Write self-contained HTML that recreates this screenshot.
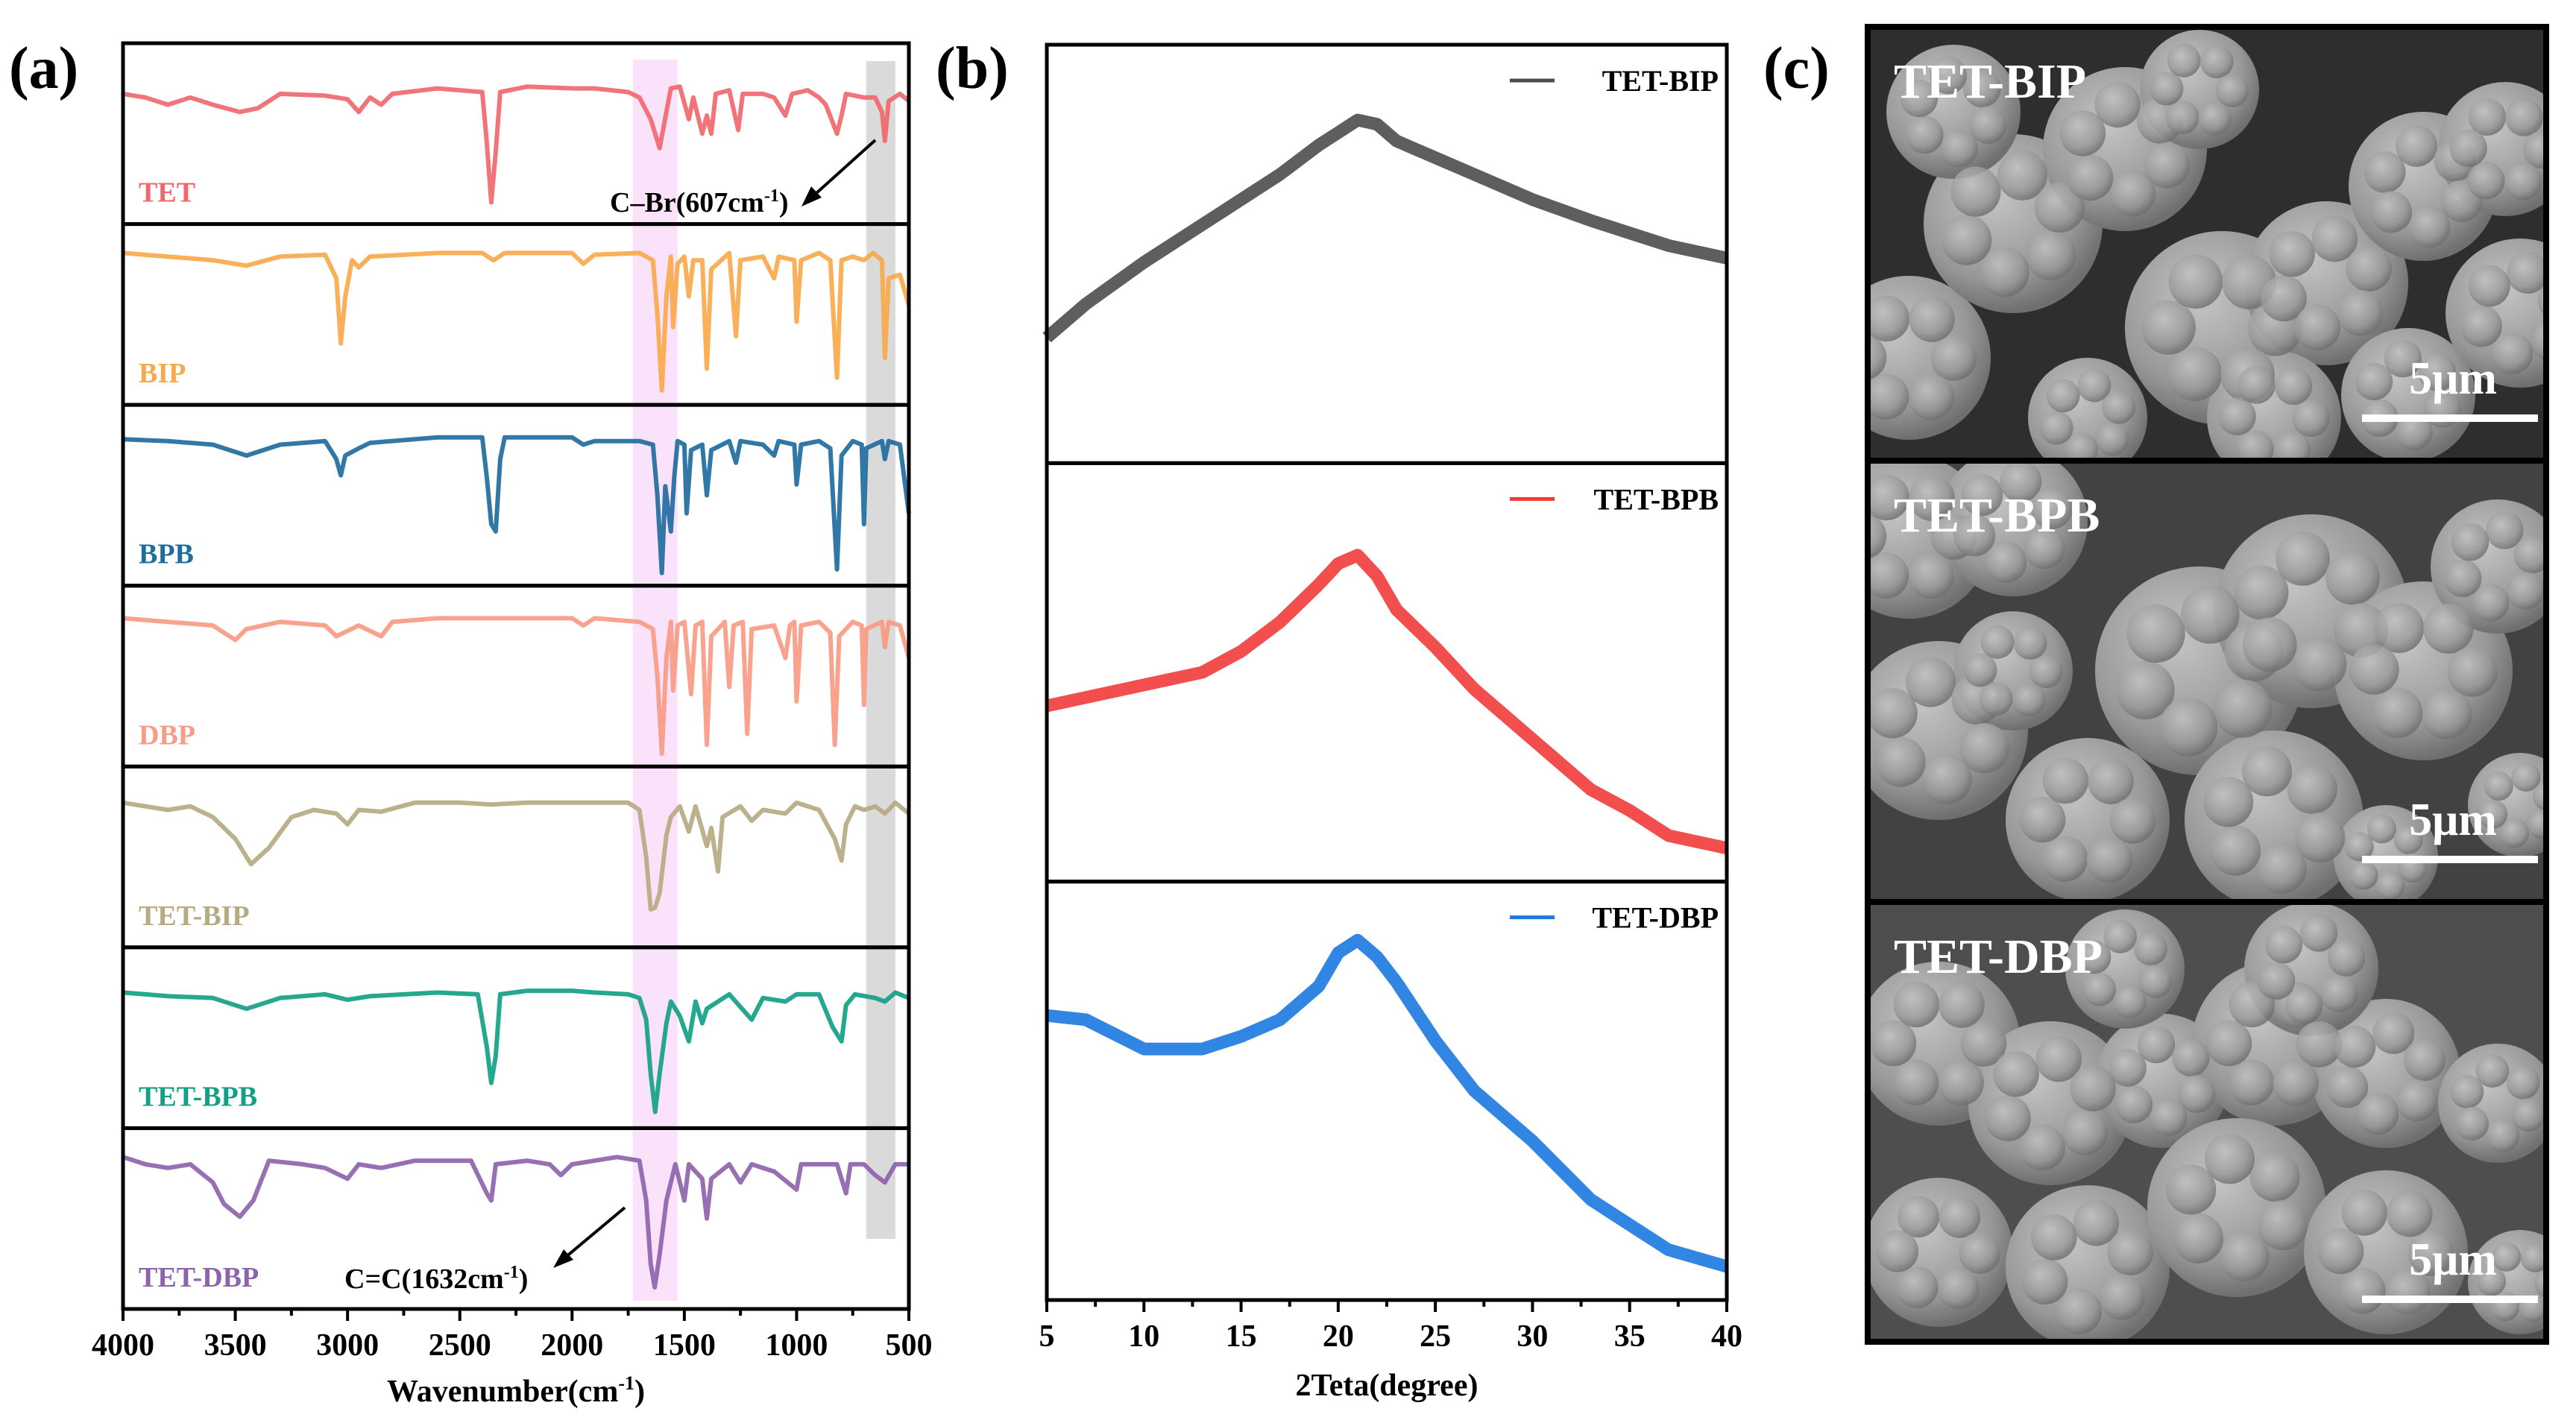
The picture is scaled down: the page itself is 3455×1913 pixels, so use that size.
<!DOCTYPE html>
<html><head><meta charset="utf-8">
<style>
html,body{margin:0;padding:0;background:#fff;}
svg{display:block;font-family:"Liberation Serif",serif;font-weight:bold;}
</style></head>
<body>
<svg id="fig" width="3455" height="1913" viewBox="0 0 3455 1913" xmlns="http://www.w3.org/2000/svg">
<defs>
<radialGradient id="blob" cx="40%" cy="35%" r="65%">
<stop offset="0" stop-color="#c4c4c4"/><stop offset="0.7" stop-color="#989898"/><stop offset="1" stop-color="#6f6f6f"/>
</radialGradient>
<clipPath id="c1"><rect x="2505" y="36" width="910" height="582"/></clipPath>
<clipPath id="c2"><rect x="2505" y="618" width="910" height="592"/></clipPath>
<clipPath id="c3"><rect x="2505" y="1210" width="910" height="590"/></clipPath>
</defs>
<g id="pa"></g>
<g id="pb"></g>
<g id="pc"></g>
</svg>
<script>
// ---------- Panel (a) FTIR data ----------
const ftirNames = ["TET","BIP","BPB","DBP","TET-BIP","TET-BPB","TET-DBP"];
const ftirColors = ["#f0686e","#f9a94b","#1f6c9e","#f99b86","#b5aa82","#14a086","#8e63ad"];
const ftirTET = [[4000,72],[3900,70],[3800,66],[3700,70],[3600,66],[3480,62],[3400,64],[3300,72],[3100,71],[3000,69],[2950,62],[2900,70],[2850,66],[2800,72],[2600,75],[2400,73],[2380,45],[2360,12],[2340,40],[2320,73],[2200,76],[2000,75],[1900,75],[1750,73],[1700,70],[1650,58],[1610,42],[1580,62],[1560,75],[1520,76],[1480,58],[1460,70],[1420,50],[1400,60],[1380,50],[1360,72],[1300,74],[1260,52],[1240,72],[1150,72],[1100,70],[1050,60],[1020,72],[950,74],[900,70],[870,66],[820,50],[800,60],[780,72],[700,70],[650,70],[620,62],[607,46],[590,68],[540,72],[500,68]];
const ftirBIP = [[4000,84],[3800,82],[3600,80],[3450,77],[3300,82],[3100,83],[3050,70],[3030,34],[3010,60],[2980,80],[2950,76],[2900,82],[2600,84],[2400,84],[2350,80],[2300,84],[2000,84],[1950,78],[1900,83],[1700,84],[1640,80],[1620,50],[1600,8],[1580,60],[1560,82],[1550,43],[1530,78],[1500,82],[1480,60],[1460,80],[1420,80],[1400,20],[1380,75],[1300,84],[1270,38],[1250,80],[1150,82],[1100,70],[1080,82],[1010,80],[1000,46],[980,80],[900,84],[850,80],[820,15],[800,80],[750,82],[700,80],[660,84],[620,80],[607,26],[590,70],[540,72],[500,55]];
const ftirBPB = [[4000,81],[3800,80],[3600,78],[3450,72],[3300,78],[3100,80],[3050,70],[3030,61],[3010,72],[2950,76],[2900,79],[2600,82],[2400,82],[2380,60],[2360,34],[2340,30],[2320,70],[2300,82],[2000,82],[1950,78],[1900,80],[1700,80],[1640,78],[1620,50],[1600,7],[1585,55],[1560,30],[1545,60],[1530,80],[1500,78],[1490,40],[1470,75],[1420,78],[1400,50],[1380,75],[1300,80],[1270,68],[1250,80],[1150,78],[1100,72],[1080,80],[1010,78],[1000,56],[980,78],[900,80],[850,76],[820,9],[800,72],[750,80],[710,78],[700,34],[690,76],[620,80],[607,70],[590,80],[540,78],[500,40]];
const ftirDBP = [[4000,82],[3800,80],[3600,78],[3500,70],[3450,76],[3300,80],[3100,78],[3050,72],[2950,78],[2850,72],[2800,80],[2600,82],[2400,82],[2000,82],[1950,78],[1900,82],[1700,80],[1640,76],[1620,50],[1600,7],[1580,60],[1560,80],[1550,42],[1530,78],[1500,80],[1470,40],[1450,78],[1420,80],[1400,12],[1380,72],[1320,80],[1300,44],[1280,78],[1240,80],[1220,18],[1200,76],[1100,78],[1050,60],[1030,78],[1010,80],[1000,36],[980,78],[900,80],[850,74],[830,12],[810,72],[750,80],[710,78],[700,34],[690,76],[620,80],[607,66],[590,80],[540,78],[500,60]];
const ftirTBIP = [[4000,80],[3900,78],[3800,76],[3700,78],[3600,72],[3500,60],[3430,46],[3350,55],[3250,72],[3150,76],[3050,74],[3000,68],[2950,76],[2850,75],[2700,80],[2500,80],[2360,79],[2200,80],[2000,80],[1900,80],[1750,80],[1700,76],[1670,50],[1650,21],[1630,22],[1610,30],[1580,62],[1560,72],[1520,78],[1480,64],[1450,78],[1400,56],[1380,66],[1350,42],[1330,72],[1250,78],[1200,70],[1150,76],[1050,74],[1000,80],[900,76],[830,60],[800,48],[780,68],[740,78],[700,76],[650,78],[607,74],[560,80],[500,74]];
const ftirTBPB = [[4000,75],[3900,74],[3800,73],[3600,72],[3450,66],[3300,72],[3100,74],[3000,71],[2900,73],[2600,75],[2420,74],[2380,45],[2360,25],[2340,40],[2320,74],[2200,76],[2000,76],[1900,75],[1750,74],[1700,72],[1670,60],[1650,30],[1630,9],[1610,30],[1580,58],[1560,70],[1520,62],[1480,48],[1450,70],[1420,58],[1400,66],[1350,70],[1300,74],[1200,60],[1150,72],[1050,70],[1000,74],[900,74],[840,56],[800,48],[780,68],[740,74],[650,72],[607,70],[560,75],[500,72]];
const ftirTDBP = [[4000,84],[3900,80],[3800,78],[3700,80],[3600,70],[3550,58],[3480,51],[3420,60],[3350,82],[3200,80],[3100,78],[3000,72],[2950,80],[2850,78],[2700,82],[2450,82],[2380,64],[2360,60],[2340,80],[2200,82],[2100,80],[2050,74],[2000,80],[1800,84],[1700,82],[1670,60],[1650,25],[1632,12],[1610,30],[1580,60],[1560,70],[1540,80],[1500,60],[1480,80],[1420,72],[1400,50],[1380,72],[1300,80],[1250,70],[1200,80],[1100,76],[1000,66],[980,80],[900,80],[820,80],[780,64],[760,80],[700,80],[650,74],[607,70],[560,80],[500,80]];
const ftirSeries = [ftirTET,ftirBIP,ftirBPB,ftirDBP,ftirTBIP,ftirTBPB,ftirTDBP];
const ftirTicks = [4000,3500,3000,2500,2000,1500,1000,500];

// ---------- Panel (b) XRD data ----------
const xrdNames = ["TET-BIP","TET-BPB","TET-DBP"];
const xrdColors = ["#4d4d4d","#f23b3b","#1b78e0"];
const xrdAngles = [5,7,10,13,15,17,19,20,21,22,23,25,27,30,33,35,37,40];
const xrdBIP = [30,38,48,57,63,69,76,79,82,81,77,73,69,63,58,55,52,49];
const xrdBPB = [42,44,47,50,55,62,71,76,78,73,65,56,46,34,22,17,11,8];
const xrdDBP = [68,67,60,60,63,67,75,83,86,82,76,62,50,38,24,18,12,8];
const xrdSeries = [xrdBIP,xrdBPB,xrdDBP];
const xrdTicks = [5,10,15,20,25,30,35,40];

const NS="http://www.w3.org/2000/svg";
function mk(tag,attrs,parent,text){const e=document.createElementNS(NS,tag);for(const k in attrs)e.setAttribute(k,attrs[k]);if(text!==undefined)e.textContent=text;parent.appendChild(e);return e;}

// ===== Panel (a) =====
const pa=document.getElementById('pa');
const AX0=165,AX1=1219,ATOP=58,ABOT=1756,NP=7,PH=(ABOT-ATOP)/NP;
const ax=w=>AX0+(4000-w)/3500*(AX1-AX0);
let t=mk('text',{x:12,y:118,'font-size':80},pa,'(a)');


let band=mk('rect',{x:ax(1730),y:80,width:ax(1530)-ax(1730),height:1665,fill:'#f9d8f9',opacity:0.75},pa);


let band2=mk('rect',{x:ax(690),y:82,width:ax(560)-ax(690),height:1580,fill:'#d4d4d4',opacity:0.85},pa);


ftirSeries.forEach((s,i)=>{
  const top=ATOP+i*PH;
  const pts=s.map(p=>ax(p[0]).toFixed(1)+','+(top+(100-p[1])/100*PH).toFixed(1)).join(' ');
  const l=mk('polyline',{points:pts,fill:'none',stroke:ftirColors[i],'stroke-width':6,'stroke-linejoin':'round',opacity:0.92},pa);
  
  
  const lb=mk('text',{x:186,y:top+PH-30,'font-size':38,fill:ftirColors[i]},pa,ftirNames[i]);
  
  
  const r=mk('rect',{x:AX0,y:top,width:AX1-AX0,height:PH,fill:'none',stroke:'#000','stroke-width':5},pa);
  
  
});
ftirTicks.forEach(v=>{
  const x=ax(v);
  const tk=mk('line',{x1:x,y1:ABOT,x2:x,y2:ABOT+16,stroke:'#000','stroke-width':4},pa);
  
  
  const tl=mk('text',{x:x,y:ABOT+62,'font-size':42,'text-anchor':'middle'},pa,String(v));
  
  
  if(v>500){const m=mk('line',{x1:ax(v-250),y1:ABOT,x2:ax(v-250),y2:ABOT+9,stroke:'#000','stroke-width':4},pa);
  
  }
});
t=mk('text',{x:(AX0+AX1)/2,y:1880,'font-size':42,'text-anchor':'middle'},pa);


t.innerHTML='Wavenumber(cm<tspan font-size="26" dy="-16">-1</tspan><tspan dy="16">)</tspan>';
t=mk('text',{x:818,y:284,'font-size':38},pa);


t.innerHTML='C–Br(607cm<tspan font-size="24" dy="-14">-1</tspan><tspan dy="14">)</tspan>';
let ar=mk('line',{x1:1174,y1:188,x2:1085,y2:268,stroke:'#000','stroke-width':4},pa);


mk('polygon',{points:'1075,277 1088,250 1102,265',fill:'#000'},pa);
t=mk('text',{x:462,y:1728,'font-size':38},pa);


t.innerHTML='C=C(1632cm<tspan font-size="24" dy="-14">-1</tspan><tspan dy="14">)</tspan>';
ar=mk('line',{x1:838,y1:1620,x2:752,y2:1692,stroke:'#000','stroke-width':4},pa);


mk('polygon',{points:'742,1701 756,1676 769,1690',fill:'#000'},pa);

// ===== Panel (b) =====
const pb=document.getElementById('pb');
const BX0=1404,BX1=2316,BTOP=60,BBOT=1744,NB=3,BH=(BBOT-BTOP)/NB;
const bx=d=>BX0+(d-5)/35*(BX1-BX0);
t=mk('text',{x:1255,y:118,'font-size':80},pb,'(b)');


xrdSeries.forEach((s,i)=>{
  const top=BTOP+i*BH;
  const pts=s.map((v,j)=>bx(xrdAngles[j]).toFixed(1)+','+(top+(100-v)/100*BH).toFixed(1)).join(' ');
  const l=mk('polyline',{points:pts,fill:'none',stroke:xrdColors[i],'stroke-width':17,'stroke-linejoin':'round',opacity:0.9},pb);
  
  
  const ll=mk('line',{x1:2025,y1:top+48,x2:2085,y2:top+48,stroke:xrdColors[i],'stroke-width':5},pb);
  
  
  const lt=mk('text',{x:2305,y:top+62,'font-size':40,'text-anchor':'end'},pb,xrdNames[i]);
  
  
  const r=mk('rect',{x:BX0,y:top,width:BX1-BX0,height:BH,fill:'none',stroke:'#000','stroke-width':5},pb);
  
  
});
xrdTicks.forEach(v=>{
  const x=bx(v);
  const tk=mk('line',{x1:x,y1:BBOT,x2:x,y2:BBOT+16,stroke:'#000','stroke-width':4},pb);
  
  
  const tl=mk('text',{x:x,y:BBOT+62,'font-size':42,'text-anchor':'middle'},pb,String(v));
  
  
  if(v<40){const m=mk('line',{x1:bx(v+2.5),y1:BBOT,x2:bx(v+2.5),y2:BBOT+9,stroke:'#000','stroke-width':4},pb);
  
  }
});
t=mk('text',{x:(BX0+BX1)/2,y:1872,'font-size':42,'text-anchor':'middle'},pb,'2Teta(degree)');



// ===== Panel (c) SEM =====
const pc=document.getElementById('pc');
t=mk('text',{x:2365,y:118,'font-size':80},pc,'(c)');


const semNames=["TET-BIP","TET-BPB","TET-DBP"];
const semBoxes=[[36,582],[618,592],[1210,590]];
const semBg=["#2e2e2e","#424242","#4e4e4e"];
const semBlobs=[
 [[2560,480,110],[2700,300,120],[2850,200,110],[2980,440,130],[3120,380,110],[3250,250,100],[3360,200,90],[3380,420,100],[2620,150,90],[3050,560,90],[2800,560,80],[3230,530,90],[2950,120,80]],
 [[2560,720,110],[2700,700,100],[2600,980,120],[2800,1100,110],[2950,900,140],[3100,820,130],[3250,900,120],[3350,760,90],[3050,1100,120],[2700,900,80],[3380,1080,70],[3200,1150,70]],
 [[2600,1400,110],[2750,1480,110],[2900,1450,90],[3050,1400,110],[3200,1440,100],[3350,1480,80],[2600,1680,100],[2800,1700,110],[3000,1620,120],[3200,1680,110],[3100,1300,90],[2850,1300,80],[3380,1720,70]]
];
semBoxes.forEach((b,i)=>{
  const g=mk('g',{'clip-path':'url(#c'+(i+1)+')'},pc);
  
  
  mk('rect',{x:2505,y:b[0],width:910,height:b[1],fill:semBg[i]},g);
  semBlobs[i].forEach(c=>mk('circle',{cx:c[0],cy:c[1],r:c[2],fill:'url(#blob)'},g));
  // small surface granules (decorative texture)
  semBlobs[i].forEach((c,k)=>{
    for(let a=0;a<6;a++){
      const ang=a*1.05+k*0.7;
      mk('circle',{cx:c[0]+Math.cos(ang)*c[2]*0.55,cy:c[1]+Math.sin(ang)*c[2]*0.55,r:c[2]*0.28,fill:'url(#blob)',opacity:0.8},g);
    }
  });
  const lt=mk('text',{x:2540,y:b[0]+95,'font-size':66,fill:'#fff'},pc,semNames[i]);
  
  
  const st=mk('text',{x:3290,y:b[0]+b[1]-90,'font-size':62,fill:'#fff','text-anchor':'middle'},pc,'5μm');
  
  
  const sb=mk('rect',{x:3168,y:b[0]+b[1]-62,width:236,height:10,fill:'#fff'},pc);
  
  
  const fr=mk('rect',{x:2505,y:b[0],width:910,height:b[1],fill:'none',stroke:'#000','stroke-width':8},pc);
  
  
});
</script>
</body></html>
